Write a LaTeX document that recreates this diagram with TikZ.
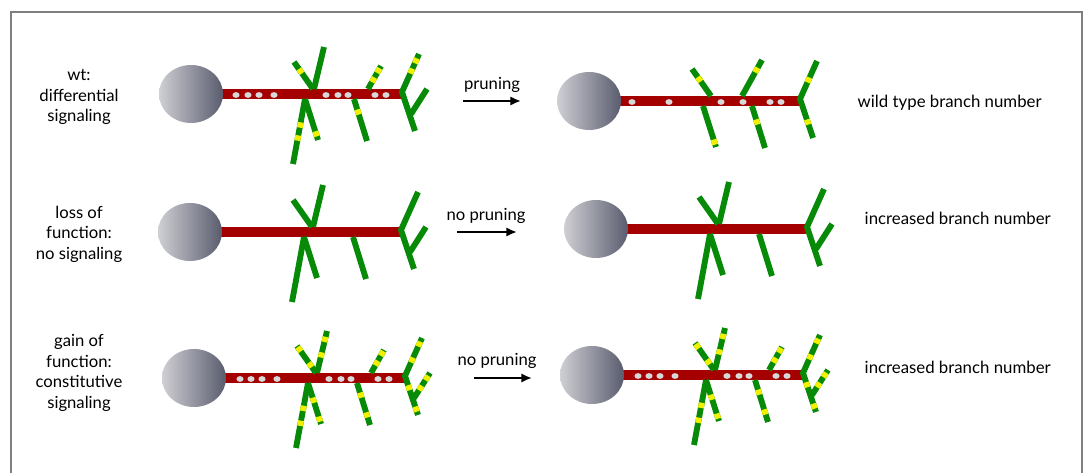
\documentclass[tikz,border=0pt]{standalone}
\usepackage{fontspec}
\setmainfont{Lato}
\usetikzlibrary{calc, arrows.meta}

\definecolor{axonred}{HTML}{A50000}
\definecolor{dendgreen}{HTML}{078A07}
\definecolor{spotyellow}{HTML}{F0F000}
\definecolor{vesgray}{HTML}{D8D8DA}
\definecolor{somalight}{HTML}{CFCFD4}
\definecolor{somadark}{HTML}{595C6E}
\definecolor{framegray}{HTML}{7F7F7F}

\tikzset{
  axon/.style={draw=axonred, line width=7pt},
  dend/.style={draw=dendgreen, line width=4.4pt},
  spotmark/.style={draw=spotyellow, line width=4.4pt},
  vesicle/.style={fill=vesgray},
  cellbody/.style={left color=somalight, right color=somadark},
  cue/.style={line width=1.7pt, -{Latex[length=8pt,width=7pt]}},
  cond/.style={align=center, font=\fontsize{12.5}{15.3}\selectfont},
  outcome/.style={anchor=west, font=\fontsize{12.6}{15}\selectfont},
}

% branch ends, measured from the tip of the axon (a = base, b = tip)
\newcommand{\branchpoints}{%
  \coordinate (ula) at (-89,-5);  \coordinate (ulb) at (-108,-32);
  \coordinate (ura) at (-88,-5);  \coordinate (urb) at (-78,-47);
  \coordinate (dla) at (-97,5);   \coordinate (dlb) at (-109,70);
  \coordinate (dra) at (-97,5);   \coordinate (drb) at (-84,46);
  \coordinate (mua) at (-34,-5);  \coordinate (mub) at (-21,-28);
  \coordinate (mda) at (-48,5);   \coordinate (mdb) at (-35,47);
  \coordinate (eua) at (0,-2);    \coordinate (eub) at (17,-40);
  \coordinate (eda) at (0,-2);    \coordinate (edb) at (13,37);
  \coordinate (sda) at (9,20);    \coordinate (sdb) at (25,-5);
}
\newcommand{\neuronbody}{%
  \draw[axon] (-211,0) -- (0,0);
  \shade[cellbody] (-211,0) ellipse [x radius=32, y radius=29];
}
\newcommand{\twig}[1]{\draw[dend] (#1a) -- (#1b);}
\newcommand{\fork}{\draw[dend] (eub) -- (eua) -- (edb);}
% yellow receptor patch at fraction #2 along branch #1
\newcommand{\fleck}[2]{%
  \coordinate (fl) at ($(#1a)!#2!(#1b)$);
  \draw[spotmark] ($(fl)!2pt!(#1a)$) -- ($(fl)!2pt!(#1b)$);
}
\newcommand{\vesicles}[1]{%
  \foreach \x in {#1} {\fill[vesicle] (\x,1) ellipse [x radius=3.6, y radius=2.9];}
}

\begin{document}
\begin{tikzpicture}[x=0.75pt, y=-0.75pt]
  \useasboundingbox (0,0) rectangle (1086,473);
  \draw[framegray, line width=1.1pt] (11,473) -- (11,12) -- (1082,12) -- (1082,473);

  % row 1: wild type
  \node[cond] (c1) at (79,97) {wt:\\differential\\signaling};
  \begin{scope}[shift={(402,94)}]
    \branchpoints
    \neuronbody
    \foreach \br in {ul,ur,dl,dr,mu,md,sd} {\twig{\br}}
    \fork
    \foreach \br/\t in {ul/0.66, dl/0.4, dl/0.6, dr/0.85, mu/0.8, mu/0.4,
                        md/0.31, eu/0.82, eu/0.55} {\fleck{\br}{\t}}
    \vesicles{-166,-154,-143,-128,-76,-64,-54,-27,-16}
  \end{scope}
  \coordinate (a1) at (463,101);
  \coordinate (b1) at (521,101);
  \draw[cue] (a1) -- (b1);
  \node[cond] (p1) at (492,85) {pruning};
  \begin{scope}[shift={(800,101)}]
    \branchpoints
    \coordinate (mua) at (-58,-5); \coordinate (mub) at (-38,-41);
    \neuronbody
    \foreach \br in {ul,dr,mu,md} {\twig{\br}}
    \fork
    \foreach \br/\t in {ul/0.62, dr/0.88, mu/0.72, md/0.38, eu/0.5, ed/0.59}
      {\fleck{\br}{\t}}
    \vesicles{-168,-131,-79,-57,-30,-19}
  \end{scope}
  \node[outcome] (r1) at (853,103) {wild type branch number};

  % row 2: loss of function
  \node[cond] (c2) at (79,234) {loss of\\function:\\no signaling};
  \begin{scope}[shift={(401,232)}]
    \branchpoints
    \neuronbody
    \foreach \br in {ul,ur,dl,dr,md,sd} {\twig{\br}}
    \fork
  \end{scope}
  \coordinate (a2) at (457,232);
  \coordinate (b2) at (517,232);
  \draw[cue] (a2) -- (b2);
  \node[cond] (p2) at (486,216) {no pruning};
  \begin{scope}[shift={(807,229)}]
    \branchpoints
    \neuronbody
    \foreach \br in {ul,ur,dl,dr,md,sd} {\twig{\br}}
    \fork
  \end{scope}
  \node[outcome] (r2) at (860,218) {increased branch number};

  % row 3: gain of function
  \node[cond] (c3) at (79,373) {gain of\\function:\\constitutive\\signaling};
  \foreach \ox/\oy in {405/378, 803/375} {
    \begin{scope}[shift={(\ox,\oy)}]
      \branchpoints
      \neuronbody
      \foreach \br in {ul,ur,dl,dr,mu,md,sd} {\twig{\br}}
      \fork
      \foreach \br/\t in {ul/0.88, ul/0.3, ur/0.8, ur/0.43, dl/0.39, dl/0.62,
                          dr/0.42, dr/0.88, mu/0.85, mu/0.43, md/0.29, md/0.76,
                          eu/0.84, eu/0.42, ed/0.3, ed/0.85, sd/0.8, sd/0.4}
        {\fleck{\br}{\t}}
      \vesicles{-165,-154,-143,-128,-76,-64,-54,-27,-16}
    \end{scope}
  }
  \coordinate (a3) at (474,378);
  \coordinate (b3) at (532,378);
  \draw[cue] (a3) -- (b3);
  \node[cond] (p3) at (497,361) {no pruning};
  \node[outcome] (r3) at (860,367) {increased branch number};
\end{tikzpicture}
\end{document}
